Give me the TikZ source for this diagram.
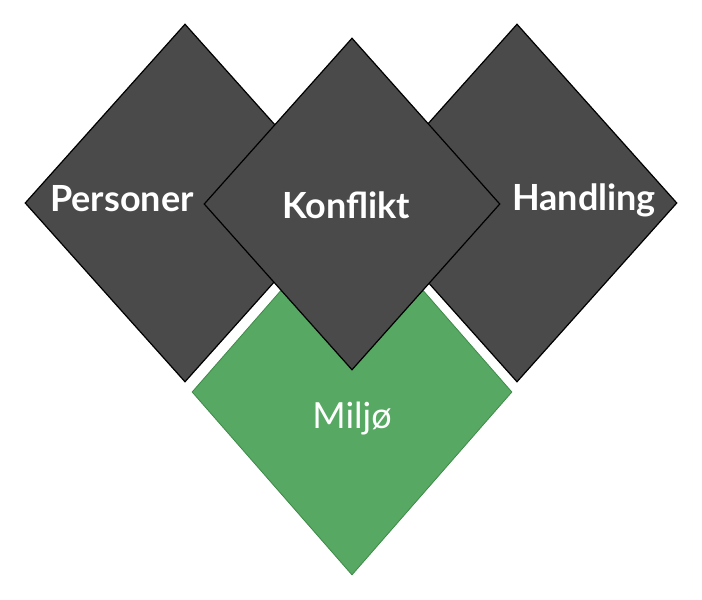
\documentclass[tikz,border=0pt]{standalone}
\usepackage{fontspec}
\setmainfont{Lato}
\usepackage{xcolor}
\usepackage{tikz}
\usetikzlibrary{shapes.geometric}

\definecolor{slate}{HTML}{4A4A4A}
\definecolor{leaf}{HTML}{56A862}
\definecolor{leafdark}{HTML}{3E8A48}

\begin{document}
\begin{tikzpicture}[
x=1pt, y=-1pt,
gem/.style={shape=diamond, draw=black, line width=1.2pt, fill=slate, minimum width=320pt, minimum height=358pt, inner sep=0pt},
word/.style={text=white, anchor=base, font=\fontsize{36}{42}\selectfont\bfseries}
]
\useasboundingbox[fill=white] (0,0) rectangle (702,600);

\node[gem] (personer) at (185,203) {};
\node[gem] (handling) at (517,203) {};
\node[gem, fill=leaf, draw=leafdark, line width=0.8pt, minimum height=366pt] (miljo) at (352,392) {};
\node[gem, minimum width=296pt, minimum height=332pt] (konflikt) at (352,204) {};

\node[word] (personerlbl) at (122,211) {Personer};
\node[word] (konfliktlbl) at (346,218) {Konflikt};
\node[word] (handlinglbl) at (584,210) {Handling};
\node[word, font=\fontsize{36}{42}\selectfont] (miljolbl) at (352,428) {Miljø};
\end{tikzpicture}
\end{document}
